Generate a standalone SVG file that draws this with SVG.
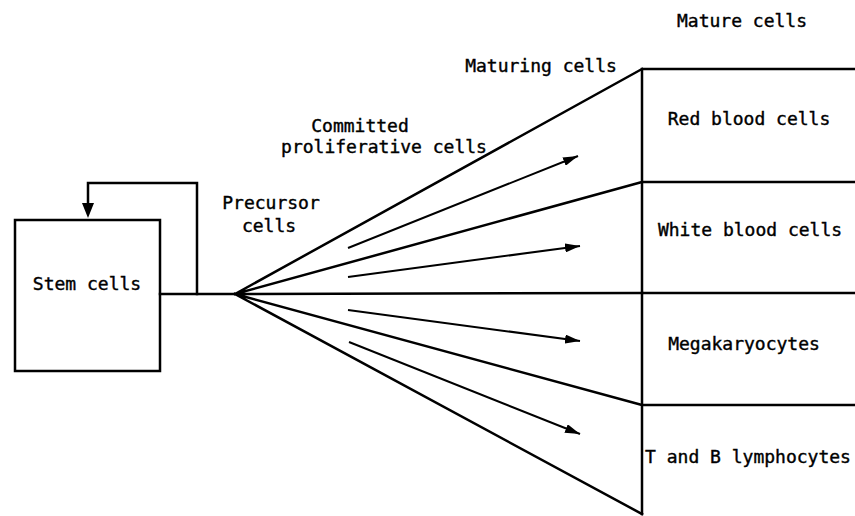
<svg xmlns="http://www.w3.org/2000/svg" width="855" height="516" viewBox="0 0 855 516">
<style>
text{font-family:"DejaVu Sans Mono","Liberation Mono",monospace;font-size:18px;fill:#000;stroke:#000;stroke-width:0.4;text-anchor:middle}
.ln{stroke:#000;stroke-width:2.5;fill:none;stroke-linecap:square}
.ar{stroke:#000;stroke-width:2;fill:none}
</style>
<defs>
<marker id="ah" viewBox="0 0 15 9" refX="15" refY="4.5" markerWidth="15" markerHeight="9" markerUnits="userSpaceOnUse" orient="auto">
<path d="M0,0 L15,4.5 L0,9 Z" fill="#000"/>
</marker>
</defs>
<rect width="855" height="516" fill="#fff"/>
<g id="stem">
<rect class="ln" x="15" y="220" width="145" height="151"/>
<text x="87" y="290">Stem cells</text>
</g>
<g id="mature">
<text x="742" y="27">Mature cells</text>
<path class="ln" d="M642,69 V514 M642,69 H855 M642,182 H855 M642,293 H855 M642,405 H855"/>
</g>
<g id="rbc"><text x="749" y="125">Red blood cells</text></g>
<g id="wbc"><text x="750" y="236">White blood cells</text></g>
<g id="mega"><text x="744" y="350">Megakaryocytes</text></g>
<g id="lymph"><text x="748" y="463">T and B lymphocytes</text></g>
<g id="labels">
<text x="541" y="72">Maturing cells</text>
<text x="360" y="132">Committed</text>
<text x="384" y="153">proliferative cells</text>
<text x="271" y="209">Precursor</text>
<text x="269" y="232">cells</text>
</g>
<g id="connectors">
<path class="ln" d="M160,294 H235"/>
<path class="ln" d="M197,294 V183 H88 V204"/>
<path d="M82,203 L94,203 L88,218 Z" fill="#000"/>
<path class="ln" d="M235,294 L642,69 M235,294 L642,182 M235,294 L642,293 M235,294 L642,405 M235,294 L642,514"/>
<path class="ar" d="M348,248 L578,156" marker-end="url(#ah)"/>
<path class="ar" d="M348,277 L580,246" marker-end="url(#ah)"/>
<path class="ar" d="M348,310 L580,341" marker-end="url(#ah)"/>
<path class="ar" d="M349,342 L580,434" marker-end="url(#ah)"/>
</g>
</svg>
